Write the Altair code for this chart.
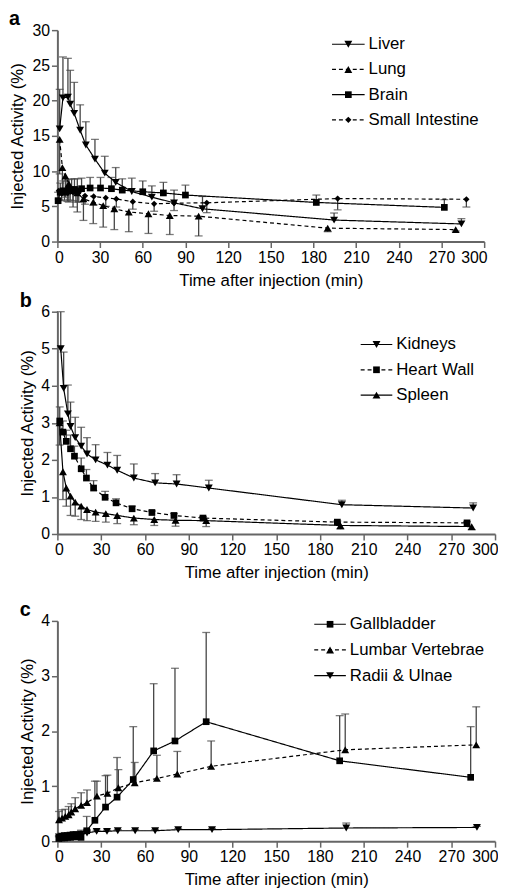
import altair as alt
import pandas as pd

FONT = "Liberation Sans"

# ---------------- Panel a ----------------
liver_t = [1.6, 3.9, 7.4, 9.0, 11.8, 16.0, 20.0, 26.4, 33.3, 41.0, 52.3, 66.4, 82.0, 102.0, 194.5, 284.0]
liver_v = [16.0, 20.4, 20.5, 19.5, 18.2, 15.8, 13.7, 11.7, 9.7, 8.4, 7.1, 6.3, 5.5, 4.65, 3.05, 2.5]
liver_e = [21.6, 26.2, 26.0, 24.3, 22.6, 19.4, 17.0, 14.5, 12.1, 10.5, 9.0, 7.9, 7.3, 6.4, 4.05, 3.25]

lung_t = [1.6, 3.5, 5.6, 8.0, 11.0, 14.0, 18.3, 25.2, 32.2, 40.0, 50.2, 64.0, 79.0, 99.3, 190.0, 280.0]
lung_v = [14.5, 10.5, 9.3, 8.2, 7.4, 6.9, 6.05, 5.6, 5.1, 4.65, 4.2, 3.95, 3.7, 3.6, 1.9, 1.7]
lung_e = [9.6, 7.0, 6.3, 5.6, 4.9, 4.2, 3.0, 2.55, 2.05, 1.7, 1.4, 1.15, 1.0, 0.8, 1.4, 1.5]

brain_t = [0.5, 2.0, 4.0, 6.0, 8.0, 10.0, 12.0, 14.0, 17.0, 23.0, 30.3, 38.0, 45.6, 60.0, 74.5, 90.0, 182.0, 272.0]
brain_v = [5.8, 7.0, 7.2, 7.0, 7.3, 7.2, 7.4, 7.2, 7.5, 7.6, 7.6, 7.5, 7.3, 7.07, 6.9, 6.6, 5.55, 4.85]
brain_e = [7.0, 8.3, 8.6, 8.6, 8.8, 8.9, 8.9, 8.9, 9.0, 9.1, 9.1, 9.1, 8.9, 8.6, 8.4, 8.0, 6.6, 5.95]

si_t = [1.0, 3.0, 5.0, 7.0, 9.0, 11.0, 13.0, 15.0, 19.4, 25.5, 34.0, 41.4, 53.0, 68.0, 82.0, 105.0, 197.0, 287.5]
si_v = [7.2, 6.8, 7.0, 6.9, 7.1, 7.0, 6.9, 7.0, 6.5, 6.4, 6.2, 6.05, 5.65, 5.35, 5.45, 5.5, 6.1, 6.0]
si_e = [6.0, 5.8, 5.9, 5.7, 5.9, 5.8, 5.6, 5.6, 5.3, 5.2, 5.0, 4.9, 4.6, 4.3, 4.4, 4.1, 4.5, 4.9]

# ---------------- Panel b ----------------
kid_t = [2.3, 4.3, 7.2, 9.0, 12.2, 16.3, 20.3, 26.2, 34.3, 41.0, 52.4, 67.0, 81.7, 103.8, 195.0, 285.0]
kid_v = [5.0, 3.93, 3.24, 2.9, 2.6, 2.37, 2.16, 2.0, 1.86, 1.72, 1.51, 1.38, 1.35, 1.24, 0.79, 0.7]
kid_e = [6.0, 4.91, 4.02, 3.56, 3.15, 2.88, 2.6, 2.41, 2.2, 2.12, 1.89, 1.63, 1.6, 1.45, 0.91, 0.84]

hw_t = [1.6, 3.8, 6.1, 9.0, 11.7, 16.3, 19.9, 24.8, 32.7, 40.2, 51.2, 64.8, 79.9, 99.8, 191.9, 280.8]
hw_v = [3.05, 2.75, 2.5, 2.3, 2.1, 1.76, 1.51, 1.24, 0.99, 0.84, 0.68, 0.58, 0.5, 0.43, 0.32, 0.3]
hw_e = [3.43, 3.05, 2.8, 2.67, 2.37, 2.05, 1.74, 1.44, 1.15, 0.95, 0.75, 0.62, 0.55, 0.47, 0.35, 0.33]

spl_t = [1.5, 3.8, 6.1, 9.0, 12.2, 16.3, 20.3, 26.2, 33.2, 41.0, 52.4, 66.4, 81.0, 102.0, 194.0, 284.0]
spl_v = [3.0, 1.68, 1.24, 1.02, 0.86, 0.75, 0.66, 0.59, 0.55, 0.5, 0.43, 0.39, 0.37, 0.36, 0.23, 0.2]
spl_e = [2.4, 0.93, 0.75, 0.5, 0.48, 0.39, 0.36, 0.34, 0.32, 0.28, 0.25, 0.23, 0.21, 0.2, 0.13, 0.11]

# ---------------- Panel c ----------------
gb_t = [1.0, 3.0, 5.0, 7.0, 9.0, 11.0, 13.0, 16.2, 20.1, 25.7, 33.0, 40.9, 52.0, 66.0, 80.6, 102.0, 193.5, 283.3]
gb_v = [0.05, 0.06, 0.06, 0.07, 0.07, 0.08, 0.08, 0.07, 0.19, 0.38, 0.62, 0.8, 1.12, 1.64, 1.82, 2.17, 1.46, 1.16]
gb_e = [0.08, 0.09, 0.1, 0.1, 0.11, 0.12, 0.14, 0.2, 0.45, 1.09, 1.19, 1.52, 2.08, 2.86, 3.14, 3.79, 2.28, 2.08]

lv_t = [1.1, 3.2, 5.4, 7.7, 9.5, 12.2, 16.3, 20.3, 27.1, 34.3, 41.8, 53.0, 68.2, 82.2, 105.4, 197.3, 287.1]
lv_v = [0.39, 0.42, 0.45, 0.48, 0.53, 0.59, 0.65, 0.7, 0.82, 0.87, 0.97, 1.06, 1.14, 1.22, 1.36, 1.66, 1.75]
lv_e = [0.54, 0.57, 0.58, 0.63, 0.68, 0.79, 0.88, 0.93, 1.09, 1.2, 1.3, 1.43, 1.56, 1.63, 1.82, 2.31, 2.44]

ru_t = [1.0, 3.0, 5.0, 7.0, 9.0, 11.0, 13.0, 16.0, 20.3, 26.9, 34.0, 41.4, 53.3, 67.0, 82.8, 106.0, 198.0, 287.6]
ru_v = [0.08, 0.09, 0.1, 0.1, 0.11, 0.12, 0.12, 0.13, 0.15, 0.18, 0.18, 0.19, 0.19, 0.19, 0.21, 0.21, 0.24, 0.25]
ru_e = [0.1, 0.11, 0.12, 0.12, 0.13, 0.14, 0.14, 0.16, 0.18, 0.2, 0.2, 0.21, 0.21, 0.21, 0.23, 0.23, 0.33, 0.27]

x_ticks = [0, 30, 60, 90, 120, 150, 180, 210, 240, 270, 300]

SHAPE_SIZE = {"triangle-down": 64, "triangle-up": 64, "square": 46, "diamond": 40}
DASH = [4, 3]


def panel(letter, series, y_max, y_ticks, width, height, legend_pos, left_extent, title_pad):
    x_axis = alt.Axis(values=x_ticks, title="Time after injection (min)",
                      labelFlush=True, labelFlushOffset=3)
    y_axis = alt.Axis(values=y_ticks, format="d", title="Injected Activity (%)",
                      titlePadding=title_pad)
    xs = alt.Scale(domain=[0, 300], nice=False)
    ys = alt.Scale(domain=[0, y_max], nice=False)
    x = alt.X("t:Q", scale=xs, axis=x_axis)
    y = alt.Y("v:Q", scale=ys, axis=y_axis)

    layers = []
    for name, t, v, e, shape, dashed in series:
        df = pd.DataFrame({"t": t, "v": v, "e": e})
        base = alt.Chart(df)
        layers.append(base.mark_rule(color="#444", strokeWidth=1.3).encode(x=x, y=y, y2="e:Q"))
        layers.append(base.mark_tick(color="#444", orient="horizontal", size=8, thickness=1.3).encode(
            x=x, y=alt.Y("e:Q", scale=ys, axis=y_axis)))
    for name, t, v, e, shape, dashed in series:
        df = pd.DataFrame({"t": t, "v": v, "e": e})
        base = alt.Chart(df)
        layers.append(base.mark_line(color="black", strokeWidth=1.2,
                                     strokeDash=DASH if dashed else [1, 0]).encode(x=x, y=y))
        layers.append(base.mark_point(filled=True, color="black", opacity=1,
                                      size=SHAPE_SIZE[shape], shape=shape).encode(x=x, y=y))

    # legend drawn inside the plot area
    lx1, lx2, ly0, dy = legend_pos
    one = pd.DataFrame({"k": [0]})
    for i, (name, t, v, e, shape, dashed) in enumerate(series):
        yy = ly0 + i * dy
        layers.append(alt.Chart(one).mark_rule(color="black", strokeWidth=1.2,
                                               strokeDash=DASH if dashed else [1, 0]).encode(
            x=alt.value(lx1), x2=alt.value(lx2), y=alt.value(yy)))
        layers.append(alt.Chart(one).mark_point(filled=True, color="black", opacity=1,
                                                size=SHAPE_SIZE[shape], shape=shape).encode(
            x=alt.value((lx1 + lx2) / 2), y=alt.value(yy)))
        layers.append(alt.Chart(one).mark_text(align="left", baseline="middle", font=FONT,
                                               fontSize=17, color="black").encode(
            x=alt.value(lx2 + 4), y=alt.value(yy), text=alt.value(name)))

    # panel letter
    layers.append(alt.Chart(one).mark_text(align="left", baseline="alphabetic", font=FONT,
                                           fontSize=20, fontWeight="bold", color="black").encode(
        x=alt.value(-left_extent), y=alt.value(-5), text=alt.value(letter)))

    return alt.layer(*layers).properties(width=width, height=height)


pa = panel("a", [
    ("Liver", liver_t, liver_v, liver_e, "triangle-down", False),
    ("Lung", lung_t, lung_v, lung_e, "triangle-up", True),
    ("Brain", brain_t, brain_v, brain_e, "square", False),
    ("Small Intestine", si_t, si_v, si_e, "diamond", True),
], 30, [0, 5, 10, 15, 20, 25, 30], 432, 214, (278, 311, 14.3, 25.5), 49, 6)

pb = panel("b", [
    ("Kidneys", kid_t, kid_v, kid_e, "triangle-down", False),
    ("Heart Wall", hw_t, hw_v, hw_e, "square", True),
    ("Spleen", spl_t, spl_v, spl_e, "triangle-up", False),
], 6, [0, 1, 2, 3, 4, 5, 6], 443, 225, (307, 339, 33.2, 25.6), 38, 4)

pc = panel("c", [
    ("Gallbladder", gb_t, gb_v, gb_e, "square", False),
    ("Lumbar Vertebrae", lv_t, lv_v, lv_e, "triangle-up", True),
    ("Radii & Ulnae", ru_t, ru_v, ru_e, "triangle-down", False),
], 4, [0, 1, 2, 3, 4], 443, 223, (260, 292, 3.4, 26), 38, 4)

chart = alt.vconcat(alt.vconcat(pa, pb, spacing=3), pc, spacing=20).properties(
    padding={"top": -4, "left": 0, "right": 0, "bottom": 0}
).configure_view(stroke=None).configure_axis(
    grid=False, domainColor="#666", domainWidth=2, tickColor="#666", tickWidth=1.5,
    tickSize=6, labelPadding=2, labelFont=FONT, labelFontSize=16, labelColor="black",
    titleFont=FONT, titleFontSize=17, titleFontWeight="normal", titleColor="black",
).configure_axisX(titlePadding=7)

chart.save("out.html", embed_options={"renderer": "svg", "actions": False})
